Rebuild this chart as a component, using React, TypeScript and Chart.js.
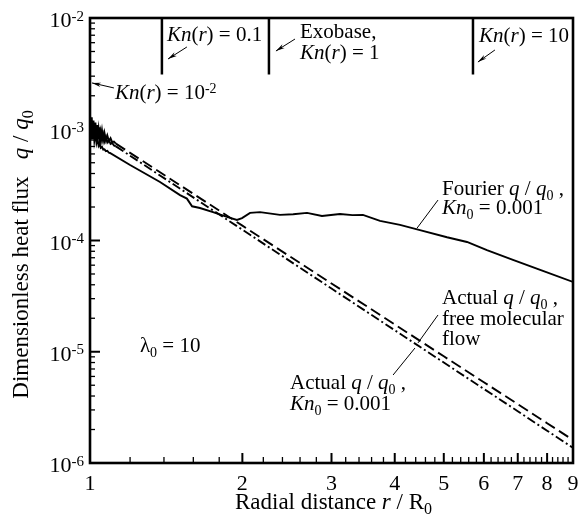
import { useEffect, useRef } from 'react';
import { Chart, registerables } from 'chart.js';

Chart.register(...registerables);

const SERIF = '"Liberation Serif", "Times New Roman", Times, serif';

// ---------- data ----------
// Fourier q/q0, Kn0 = 0.001
const fourierR = [1.0, 1.004, 1.008, 1.012, 1.016, 1.02, 1.025, 1.03, 1.035, 1.04, 1.045, 1.05, 1.056, 1.062, 1.068, 1.075, 1.082, 1.09, 1.095, 1.2, 1.375, 1.506, 1.554, 1.591, 1.649, 1.75, 1.865, 1.951, 1.997, 2.071, 2.167, 2.373, 2.52, 2.684, 2.873, 3.118, 3.3, 3.461, 3.741, 4.097, 4.486, 5.074, 5.557, 6.084, 6.849, 7.8, 9.0];
const fourierQ = [1.25e-3, 8.6e-4, 1.15e-3, 8.2e-4, 1.05e-3, 7.9e-4, 9.2e-4, 7.5e-4, 8.2e-4, 7.1e-4, 7.4e-4, 6.8e-4, 6.95e-4, 6.55e-4, 6.6e-4, 6.35e-4, 6.4e-4, 6.15e-4, 6.12e-4, 4.77e-4, 3.36e-4, 2.56e-4, 2.38e-4, 2.03e-4, 1.96e-4, 1.8e-4, 1.63e-4, 1.53e-4, 1.59e-4, 1.77e-4, 1.8e-4, 1.7e-4, 1.72e-4, 1.77e-4, 1.66e-4, 1.73e-4, 1.69e-4, 1.7e-4, 1.5e-4, 1.38e-4, 1.24e-4, 1.07e-4, 9.7e-5, 8.2e-5, 6.7e-5, 5.4e-5, 4.24e-5];

// Actual q/q0, free molecular flow
const freeR = [1.0, 1.004, 1.008, 1.012, 1.016, 1.02, 1.025, 1.03, 1.035, 1.04, 1.045, 1.05, 1.056, 1.062, 1.068, 1.075, 1.082, 1.09, 1.098, 1.106, 1.115, 1.125, 1.5, 2, 3, 4, 5, 6, 7, 8, 9];
const freeQ = [1.37e-3, 8.3e-4, 1.28e-3, 8.3e-4, 1.2e-3, 8.4e-4, 1.15e-3, 8.35e-4, 1.09e-3, 8.2e-4, 1.04e-3, 8.15e-4, 9.8e-4, 8.05e-4, 9.3e-4, 7.95e-4, 8.8e-4, 7.8e-4, 8.3e-4, 7.65e-4, 7.75e-4, 7.42e-4, 3.18e-4, 1.36e-4, 4.11e-5, 1.76e-5, 9.1e-6, 5.32e-6, 3.38e-6, 2.28e-6, 1.61e-6];

// Actual q/q0, Kn0 = 0.001
const actualR = [1.0, 1.004, 1.008, 1.012, 1.016, 1.02, 1.025, 1.03, 1.035, 1.04, 1.045, 1.05, 1.056, 1.062, 1.068, 1.075, 1.082, 1.09, 1.098, 1.106, 1.115, 1.125, 1.5, 2, 3, 4, 5, 6, 7, 8, 9];
const actualQ = [7.8e-4, 1.26e-3, 8.1e-4, 1.18e-3, 8.2e-4, 1.11e-3, 8.2e-4, 1.05e-3, 8.1e-4, 1.0e-3, 8.05e-4, 9.5e-4, 7.9e-4, 9.0e-4, 7.8e-4, 8.55e-4, 7.6e-4, 8.0e-4, 7.4e-4, 7.55e-4, 7.15e-4, 7.02e-4, 2.96e-4, 1.25e-4, 3.7e-5, 1.56e-5, 8.0e-6, 4.63e-6, 2.92e-6, 1.95e-6, 1.37e-6];

// Knudsen-number markers at the top
const knLineR = [1.387, 2.257, 5.71];
const knLineTop = 1e-2;
const knLineBottom = 3.1e-3;

// axes
const xMin = 1;
const xMax = 9;
const yMin = 1e-6;
const yMax = 1e-2;
const xTickValues = [1, 2, 3, 4, 5, 6, 7, 8, 9];
const xTickLabels = ['1', '2', '3', '4', '5', '6', '7', '8', '9'];
const xMinorTicks = [1.2, 1.4, 1.6, 1.8, 2.2, 2.4, 2.6, 2.8, 3.2, 3.4, 3.6, 3.8, 4.2, 4.4, 4.6, 4.8, 5.2, 5.4, 5.6, 5.8, 6.2, 6.4, 6.6, 6.8, 7.2, 7.4, 7.6, 7.8, 8.2, 8.4, 8.6, 8.8];
const yTickValues = [1e-2, 1e-3, 1e-4, 1e-5, 1e-6];
const yTickExponents = ['-2', '-3', '-4', '-5', '-6'];
const yMinorMantissas = [2, 3, 4, 5, 6, 7, 8, 9];

// ---------- text helpers ----------
type Seg = { t: string; i?: boolean; sub?: boolean; sup?: boolean };

function fontFor(s: Seg, size: number) {
  const sz = s.sub || s.sup ? Math.round(size * 0.68) : size;
  return `${s.i ? 'italic ' : ''}${sz}px ${SERIF}`;
}

function richWidth(ctx: CanvasRenderingContext2D, segs: Seg[], size: number) {
  let w = 0;
  for (const s of segs) {
    ctx.font = fontFor(s, size);
    w += ctx.measureText(s.t).width;
  }
  return w;
}

// y is the visual middle of the capitals/digits
function drawRich(ctx: CanvasRenderingContext2D, segs: Seg[], x: number, y: number, size: number, align: 'left' | 'center' | 'right' = 'left') {
  const w = richWidth(ctx, segs, size);
  let cx = align === 'left' ? x : align === 'center' ? x - w / 2 : x - w;
  const base = y + size * 0.33;
  ctx.textAlign = 'left';
  ctx.textBaseline = 'alphabetic';
  for (const s of segs) {
    ctx.font = fontFor(s, size);
    const dy = s.sub ? size * 0.24 : s.sup ? -size * 0.3 : 0;
    ctx.fillText(s.t, cx, base + dy);
    cx += ctx.measureText(s.t).width;
  }
}

const KN: Seg[] = [{ t: 'Kn', i: true }, { t: '(' }, { t: 'r', i: true }, { t: ')' }];
const QQ0: Seg[] = [{ t: 'q', i: true }, { t: ' / ' }, { t: 'q', i: true }, { t: '0', sub: true }];

type Note = { r: number; q: number; segs: Seg[] };
const notes: Note[] = [
  { r: 1.419, q: 7.18e-3, segs: [...KN, { t: ' = 0.1' }] },
  { r: 2.6, q: 7.64e-3, segs: [{ t: 'Exobase,' }] },
  { r: 2.6, q: 4.95e-3, segs: [...KN, { t: ' = 1' }] },
  { r: 5.87, q: 7.03e-3, segs: [...KN, { t: ' = 10' }] },
  { r: 1.12, q: 2.16e-3, segs: [...KN, { t: ' = 10' }, { t: '-2', sup: true }] },
  { r: 1.255, q: 1.15e-5, segs: [{ t: 'λ' }, { t: '0', sub: true }, { t: ' = 10' }] },
  { r: 2.484, q: 5.35e-6, segs: [{ t: 'Actual ' }, ...QQ0, { t: ' ,' }] },
  { r: 2.484, q: 3.46e-6, segs: [{ t: 'Kn', i: true }, { t: '0', sub: true }, { t: ' = 0.001' }] },
  { r: 4.96, q: 3.1e-5, segs: [{ t: 'Actual ' }, ...QQ0, { t: ' ,' }] },
  { r: 4.96, q: 2.01e-5, segs: [{ t: 'free molecular' }] },
  { r: 4.96, q: 1.33e-5, segs: [{ t: 'flow' }] },
  { r: 4.96, q: 2.96e-4, segs: [{ t: 'Fourier ' }, ...QQ0, { t: ' ,' }] },
  { r: 4.96, q: 2.0e-4, segs: [{ t: 'Kn', i: true }, { t: '0', sub: true }, { t: ' = 0.001' }] },
];

type Link = { r0: number; q0: number; r1: number; q1: number; arrow: boolean };
const links: Link[] = [
  { r0: 1.554, q0: 5.49e-3, r1: 1.426, q1: 4.28e-3, arrow: true },
  { r0: 2.541, q0: 6.47e-3, r1: 2.33, q1: 5.05e-3, arrow: true },
  { r0: 6.31, q0: 5.16e-3, r1: 5.84, q1: 4.02e-3, arrow: true },
  { r0: 1.115, q0: 2.35e-3, r1: 1.009, q1: 2.61e-3, arrow: true },
  { r0: 3.97, q0: 6.18e-6, r1: 4.385, q1: 1.08e-5, arrow: false },
  { r0: 4.446, q0: 1.2e-5, r1: 4.87, q1: 2.14e-5, arrow: false },
  { r0: 4.426, q0: 1.29e-4, r1: 4.87, q1: 2.31e-4, arrow: false },
];

const NOTE_SIZE = 21;
const TICK_SIZE = 22;
const TITLE_SIZE = 23;

const decorPlugin = {
  id: 'decor',
  afterDatasetsDraw(chart: any) {
    const { ctx, chartArea: a, scales } = chart;
    const xs = scales.x;
    const ys = scales.y;
    const X = (v: number) => xs.getPixelForValue(v);
    const Y = (v: number) => ys.getPixelForValue(v);
    const seg = (x0: number, y0: number, x1: number, y1: number) => {
      ctx.beginPath();
      ctx.moveTo(x0, y0);
      ctx.lineTo(x1, y1);
      ctx.stroke();
    };
    ctx.save();
    ctx.strokeStyle = '#000';
    ctx.fillStyle = '#000';

    // frame
    ctx.lineWidth = 2.6;
    ctx.strokeRect(a.left, a.top, a.right - a.left, a.bottom - a.top);

    // x ticks (inward)
    ctx.lineWidth = 2;
    xTickValues.forEach((v) => seg(X(v), a.bottom, X(v), a.bottom - 10));
    ctx.lineWidth = 1.3;
    xMinorTicks.forEach((v) => seg(X(v), a.bottom, X(v), a.bottom - 6));

    // y ticks (inward)
    ctx.lineWidth = 2;
    yTickValues.forEach((v) => seg(a.left, Y(v), a.left + 10, Y(v)));
    ctx.lineWidth = 1.3;
    yTickValues.forEach((v) => {
      if (v >= yMax) return;
      yMinorMantissas.forEach((m) => {
        const val = v * m;
        if (val < yMax) seg(a.left, Y(val), a.left + 5, Y(val));
      });
    });

    // tick labels
    xTickValues.forEach((v, i) => drawRich(ctx, [{ t: xTickLabels[i] }], X(v), a.bottom + 20, TICK_SIZE, 'center'));
    yTickValues.forEach((v, i) =>
      drawRich(ctx, [{ t: '10' }, { t: yTickExponents[i], sup: true }], a.left - 6, Y(v) + 2, TICK_SIZE, 'right')
    );

    // axis titles
    drawRich(
      ctx,
      [{ t: 'Radial distance ' }, { t: 'r', i: true }, { t: ' / ' }, { t: 'R' }, { t: '0', sub: true }],
      (a.left + a.right) / 2 + 2,
      a.bottom + 38,
      TITLE_SIZE,
      'center'
    );
    ctx.save();
    ctx.translate(20, (a.top + a.bottom) / 2 + 14);
    ctx.rotate(-Math.PI / 2);
    drawRich(ctx, [{ t: 'Dimensionless heat flux   ' }, ...QQ0], 0, 0, TITLE_SIZE, 'center');
    ctx.restore();

    // annotations
    notes.forEach((n) => drawRich(ctx, n.segs, X(n.r), Y(n.q), NOTE_SIZE, 'left'));
    ctx.lineWidth = 1;
    links.forEach((l) => {
      const x0 = X(l.r0);
      const y0 = Y(l.q0);
      const x1 = X(l.r1);
      const y1 = Y(l.q1);
      seg(x0, y0, x1, y1);
      if (l.arrow) {
        const ang = Math.atan2(y1 - y0, x1 - x0);
        const len = 9;
        const hw = 2.2;
        ctx.beginPath();
        ctx.moveTo(x1, y1);
        ctx.lineTo(x1 - len * Math.cos(ang) + hw * Math.sin(ang), y1 - len * Math.sin(ang) - hw * Math.cos(ang));
        ctx.lineTo(x1 - len * 0.7 * Math.cos(ang), y1 - len * 0.7 * Math.sin(ang));
        ctx.lineTo(x1 - len * Math.cos(ang) - hw * Math.sin(ang), y1 - len * Math.sin(ang) + hw * Math.cos(ang));
        ctx.closePath();
        ctx.fill();
      }
    });
    ctx.restore();
  },
};

const toPts = (rs: number[], qs: number[]) => rs.map((r, i) => ({ x: r, y: qs[i] }));

export default function App() {
  const ref = useRef<HTMLCanvasElement>(null);
  useEffect(() => {
    document.body.style.margin = '0';
    const canvas = ref.current;
    if (!canvas) return;
    const noiseSolid = (c: any) => (c.p1.parsed.x <= 1.125 ? [] : undefined);
    const chart = new Chart(canvas, {
      type: 'line',
      data: {
        datasets: [
          {
            data: toPts(fourierR, fourierQ),
            borderColor: '#000',
            borderWidth: 1.9,
            pointRadius: 0,
            tension: 0,
          },
          {
            data: toPts(freeR, freeQ),
            borderColor: '#000',
            borderWidth: 1.9,
            pointRadius: 0,
            borderDash: [11, 5],
            segment: { borderDash: noiseSolid },
          },
          {
            data: toPts(actualR, actualQ),
            borderColor: '#000',
            borderWidth: 1.9,
            pointRadius: 0,
            borderDash: [9, 3, 2, 3],
            segment: { borderDash: noiseSolid },
          },
          ...knLineR.map((r) => ({
            data: [
              { x: r, y: knLineTop },
              { x: r, y: knLineBottom },
            ],
            borderColor: '#000',
            borderWidth: 2.5,
            pointRadius: 0,
          })),
        ] as any,
      },
      options: {
        animation: false,
        responsive: false,
        events: [],
        layout: { padding: { left: 90, top: 18, right: 12, bottom: 56 } },
        plugins: { legend: { display: false }, tooltip: { enabled: false } },
        scales: {
          x: { type: 'logarithmic', min: xMin, max: xMax, display: false },
          y: { type: 'logarithmic', min: yMin, max: yMax, display: false },
        },
      } as any,
      plugins: [decorPlugin],
    });
    return () => chart.destroy();
  }, []);
  return <canvas ref={ref} width={585} height={519} style={{ display: 'block' }} />;
}
